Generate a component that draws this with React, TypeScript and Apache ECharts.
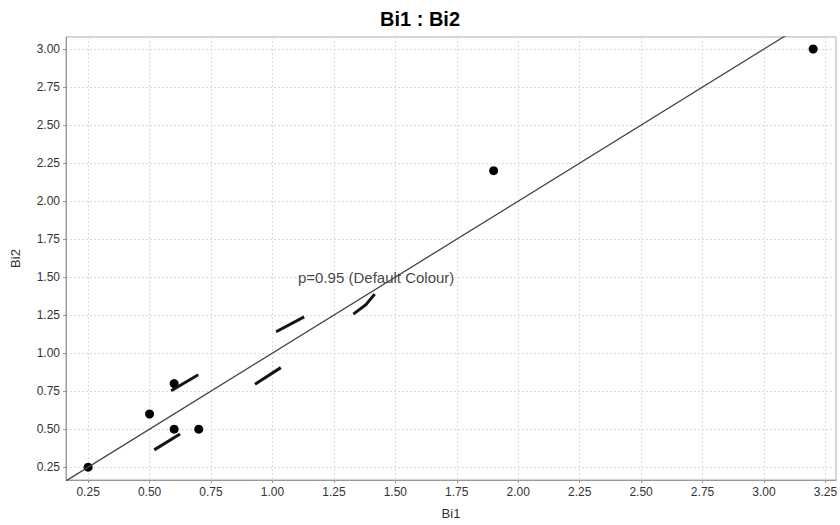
import React, { useEffect, useRef } from "react";
import * as echarts from "echarts";

const bi1 = [0.25, 0.5, 0.6, 0.6, 0.7, 1.9, 3.2];
const bi2 = [0.25, 0.6, 0.8, 0.5, 0.5, 2.2, 3.0];

const xRange = [0.16, 3.293];
const yRange = [0.166, 3.079];

// 1:1 fitted line end points
const fitLineX = [0.16, 3.3];
const fitLineY = [0.16, 3.3];

// visible dashes of the p=0.95 ellipse
const ellipseDashes = [
  [[0.519, 0.364], [0.624, 0.469]],
  [[0.588, 0.753], [0.698, 0.858]],
  [[0.929, 0.796], [1.034, 0.905]],
  [[1.015, 1.141], [1.129, 1.239]],
  [[1.329, 1.257], [1.38, 1.318], [1.416, 1.388]],
];

const ellipseLabelPos = [1.104, 1.495];
const ellipseLabelText = "p=0.95 (Default Colour)";

const FONT = "'Liberation Sans', Arial, sans-serif";

export default function App() {
  const ref = useRef<HTMLDivElement>(null);
  useEffect(() => {
    const chart = echarts.init(ref.current!, null, { renderer: "svg" });
    const axisCommon = {
      type: "value" as const,
      splitNumber: 12,
      minInterval: 0.25,
      maxInterval: 0.25,
      nameTextStyle: { fontFamily: FONT, fontSize: 13, color: "#333" },
      axisLine: { show: true, lineStyle: { color: "#999", width: 1 } },
      axisTick: { show: true, length: 3, lineStyle: { color: "#999" } },
      axisLabel: {
        fontFamily: FONT,
        fontSize: 12,
        color: "#333",
        margin: 6,
        showMinLabel: false,
        showMaxLabel: false,
        formatter: (v: number) => v.toFixed(2),
      },
      splitLine: { show: true, lineStyle: { color: "#dcdcdc", type: [2, 2] as any, width: 1 } },
    };
    const series: any[] = [
      {
        type: "line",
        data: fitLineX.map((x, i) => [x, fitLineY[i]]),
        showSymbol: false,
        symbol: "none",
        lineStyle: { color: "#444", width: 1.3 },
        clip: true,
        silent: true,
      },
      ...ellipseDashes.map((d) => ({
        type: "line",
        data: d,
        showSymbol: false,
        symbol: "none",
        lineStyle: { color: "#151515", width: 3, cap: "butt", join: "round" },
        silent: true,
      })),
      {
        type: "scatter",
        data: bi1.map((x, i) => [x, bi2[i]]),
        symbol: "circle",
        symbolSize: 9,
        itemStyle: { color: "#000", opacity: 1 },
      },
      {
        type: "scatter",
        data: [ellipseLabelPos],
        symbolSize: 0,
        itemStyle: { color: "transparent" },
        label: {
          show: true,
          position: "right",
          distance: 0,
          formatter: ellipseLabelText,
          fontFamily: FONT,
          fontSize: 15,
          color: "#111",
        },
        silent: true,
      },
    ];
    chart.setOption({
      animation: false,
      backgroundColor: "#fff",
      title: {
        text: "Bi1 : Bi2",
        left: "center",
        top: 4,
        textStyle: { fontFamily: FONT, fontSize: 20, fontWeight: "bold", color: "#000" },
      },
      grid: {
        left: 66,
        right: 4,
        top: 37,
        bottom: 45,
        show: true,
        borderColor: "#aaa",
        borderWidth: 1,
        backgroundColor: "#fff",
        containLabel: false,
        outerBoundsMode: "none",
      },
      xAxis: {
        ...axisCommon,
        min: xRange[0],
        max: xRange[1],
        name: "Bi1",
        nameLocation: "middle",
        nameGap: 27,
      },
      yAxis: {
        ...axisCommon,
        min: yRange[0],
        max: yRange[1],
        name: "Bi2",
        nameLocation: "middle",
        nameGap: 44,
      },
      series,
    });
    return () => chart.dispose();
  }, []);
  return (
    <div
      ref={ref}
      style={{ position: "fixed", left: 0, top: 0, width: 840, height: 525 }}
    />
  );
}
